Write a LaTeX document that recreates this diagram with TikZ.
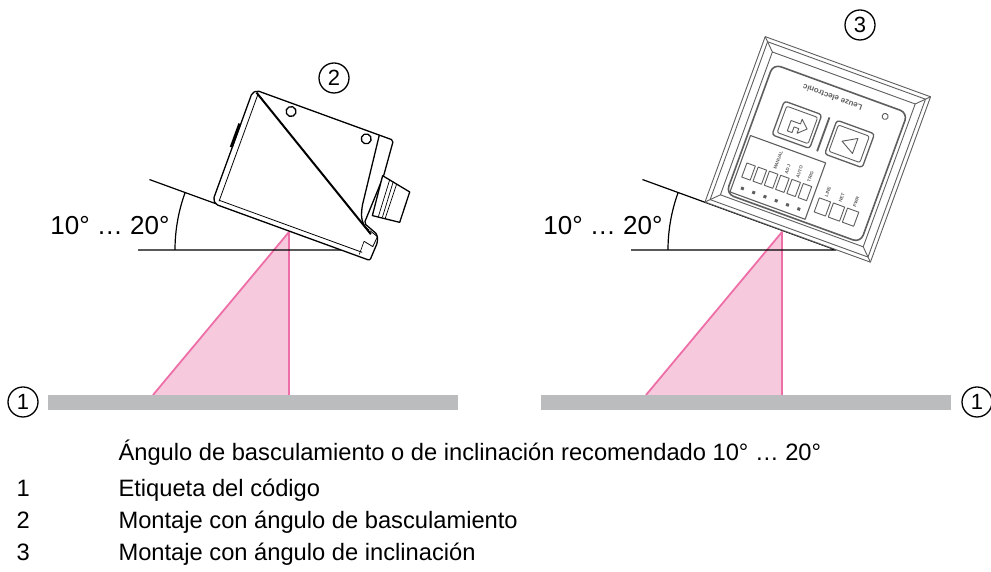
\documentclass[tikz,border=0pt]{standalone}
\usepackage{fontspec}
\setmainfont{Liberation Sans}
\usetikzlibrary{calc, positioning}

\definecolor{beampink}{HTML}{F6C9DD}
\definecolor{beamline}{HTML}{EE6FA8}
\definecolor{labelgray}{HTML}{BBBCBE}
\definecolor{devgray}{HTML}{5E5E5E}

\begin{document}
\begin{tikzpicture}[x=1pt, y=1pt, line join=round,
  num/.style={draw, circle, line width=1.3pt, minimum size=30pt, inner sep=0pt, font=\fontsize{22}{22}\selectfont},
  anglab/.style={anchor=base east, font=\fontsize{26}{30}\selectfont},
  legend/.style={anchor=base west, font=\fontsize{23.7}{28}\selectfont},
  tiny/.style={transform shape, inner sep=0pt, font=\fontsize{4.5}{4.5}\selectfont\bfseries, text=devgray}]
  \useasboundingbox (0,0) rectangle (991,572);

  \foreach \dx/\side in {0/L, 493/R} {
    \begin{scope}[xshift=\dx pt]
      \fill[beampink] (153,177) -- (289,340) -- (289,177) -- cycle;
      \draw[beamline, line width=1.8pt] (153,177) -- (289,340) -- (289,177);
      \fill[labelgray] (48,162) rectangle (458,177);
      \coordinate (vertex\side) at (343,322);
      \draw[line width=1.2pt] (138,322) -- (vertex\side) -- ++(160:206);
      \draw[line width=1.2pt] ($(vertex\side)+(180:168)$) arc[start angle=180, end angle=160, radius=168];
      \node[anglab] (angle\side) at (173,337) {10° … 20°};
    \end{scope}
  };

  \begin{scope}[shift={(212,369)}, rotate=-20, line width=1.3pt]
    \filldraw[fill=white, rounded corners=2pt] (4,0) -- (168,0) -- (169,20) -- (166,27) -- (150,33)
      -- (152,84) -- (149,121) -- (4,121) -- (0,117) -- (0,4) -- cycle;
    \filldraw[fill=white] (151,84) -- (182,78) -- (183,46) -- (155,43) -- cycle;
    \draw[line width=0.7pt] (159,83) -- (161,44) (163,82) -- (165,45) (167,81) -- (168,45);
    \draw (134,121) -- (142,50) to[out=-80, in=165] (157,28);
    \draw[line width=2pt] (4,119) -- (160,25);
    \draw (43,113) circle[radius=5];
    \draw (123,113) circle[radius=5];
    \draw[line width=0.8pt] (6,4) -- (6,117);
    \draw[line width=0.8pt] (6,5) -- (158,5);
    \draw[line width=3pt] (-1,59) -- (-1,84);
    \draw[line width=0.8pt] (156,16) -- (166,14) -- (167,25) -- (158,28);
    \draw[line width=0.6pt] (156,2) -- (156,16);
  \end{scope}

  \begin{scope}[shift={(705,370)}, rotate=-20, draw=devgray, line width=0.9pt]
    \filldraw[fill=white] (0,0) rectangle (176,176);
    \draw (4,4) rectangle (172,172);
    \draw (12,12) rectangle (164,164);
    \draw (0,0) -- (12,12) (176,0) -- (164,12) (176,176) -- (164,164) (0,176) -- (12,164);
    \draw[line width=1.6pt, rounded corners=8pt] (17,15) rectangle (160,153);
    \node[tiny, rotate=180, font=\fontsize{8}{8}\selectfont\bfseries] (brand) at (84,142) {Leuze electronic};
    \draw (140,142) circle[radius=3];
    \draw[line width=1.3pt, rounded corners=3pt] (40,86) rectangle (80,122);
    \draw[rounded corners=2pt] (44,90) rectangle (77,118);
    \draw (53,95) -- (53,106) -- (63,106) -- (63,111) -- (71,103.5) -- (63,96) -- (63,101) -- (58,101) -- (58,95) -- cycle;
    \draw[line width=1.3pt, rounded corners=3pt] (96,86) rectangle (136,122);
    \draw[rounded corners=2pt] (99,90) rectangle (132,118);
    \draw (108,104) -- (122,112) -- (122,96) -- cycle;
    \draw[line width=1.8pt] (88,86) -- (88,122);
    \draw[line width=1.1pt] (20,18) rectangle (100,78);
    \foreach \i in {0,...,5} {
      \draw (26+\i*12,36) rectangle ++(9,15);
      \fill[devgray] (29+\i*12,24) rectangle ++(3,3);
    };
    \foreach \i/\t in {2/MANUAL, 3/ADJ, 4/AUTO, 5/TRIG}
      \node[tiny, rotate=90, anchor=west] (led\i) at (30.5+\i*12,54) {\t};
    \foreach \i/\t in {0/LINE, 1/NET, 2/PWR} {
      \draw (106+\i*15,28) rectangle ++(12,15);
      \node[tiny, rotate=90, anchor=west] (key\i) at (112+\i*15,46) {\t};
    };
  \end{scope}

  \node[num] (mark1L) at (23,170) {1};
  \node[num] (mark1R) at (977,170) {1};
  \node[num] (mark2) at (334,494) {2};
  \node[num] (mark3) at (860,547) {3};

  \node[legend] (legtitle) at (115,111) {Ángulo de basculamiento o de inclinación recomendado 10° … 20°};
  \foreach \n/\t in {1/Etiqueta del código, 2/Montaje con ángulo de basculamiento, 3/Montaje con ángulo de inclinación} {
    \node[legend] (legnum\n) at (13,107-32*\n) {\n};
    \node[legend] (legtext\n) at (115,107-32*\n) {\t};
  };
\end{tikzpicture}
\end{document}
